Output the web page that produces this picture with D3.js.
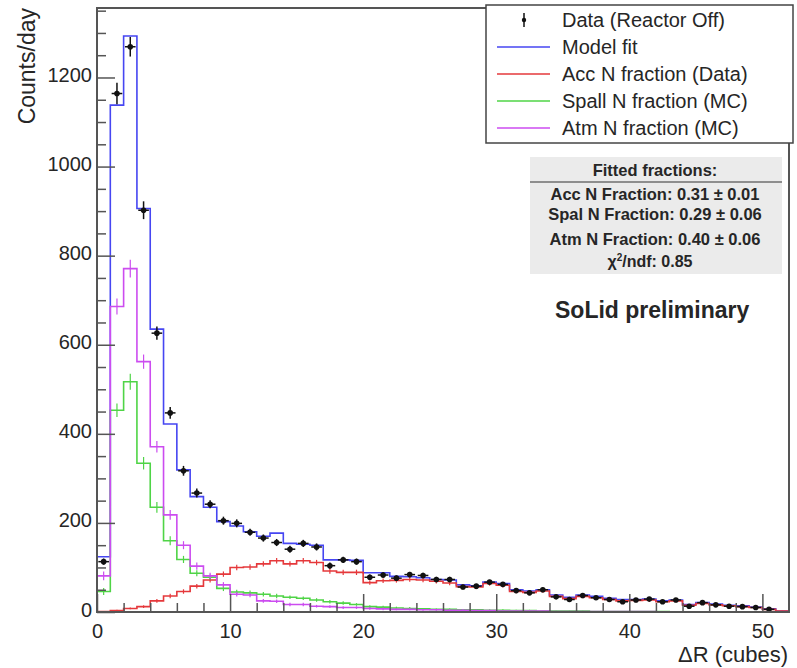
<!DOCTYPE html>
<html>
<head>
<meta charset="utf-8">
<script src="https://cdn.jsdelivr.net/npm/d3@7"></script>
<style>
  body { margin: 0; background: #fff; }
  text { font-family: "Liberation Sans", Arial, Helvetica, sans-serif; fill: #262626; }
</style>
</head>
<body>
<div id="chart"></div>
<script>
// lower edge of each 1-cube bin in ΔR
var binLow = d3.range(0, 52);

var dataCounts = [113, 1164, 1269, 902, 626, 447, 317, 267, 242, 205, 199, 179, 166, 156, 141, 154, 146, 104, 117, 113,
  78, 83, 76, 84, 82, 73, 73, 56, 58, 67, 62, 48, 43, 50, 34, 28, 37, 32, 28, 23, 27, 29, 23, 27, 13, 21, 16, 13, 12, 10, 6, 0];
var dataErr = [7, 24, 22, 20, 15, 13, 11, 10, 9, 9, 9, 8, 8, 8, 8, 8, 8, 7, 7, 7,
  6, 6, 6, 6, 6, 6, 6, 5, 5, 5, 5, 5, 5, 5, 4, 4, 4, 4, 4, 4, 4, 4, 4, 4, 3, 3, 3, 3, 3, 3, 3, 0];

var modelFit = [124, 1138, 1293, 906, 635, 422, 319, 259, 235, 203, 193, 180, 170, 177, 154, 152, 150, 117, 117, 116,
  88, 88, 80, 79, 77, 73, 72, 61, 59, 67, 64, 50, 47, 50, 38, 33, 38, 35, 31, 28, 28, 29, 25, 27, 17, 21, 18, 15, 14, 11, 7, 2];

var accN = [1, 3, 8, 12, 25, 36, 46, 58, 72, 85, 100, 101, 108, 115, 108, 115, 111, 92, 89, 89,
  66, 70, 71, 73, 72, 69, 65, 57, 56, 64, 60, 46, 44, 47, 35, 30, 35, 32, 28, 25, 26, 27, 23, 25, 15, 19, 16, 14, 12, 10, 6, 2];
var accErr = [1, 2, 2, 3, 4, 5, 5, 5, 6, 6, 6, 6, 6, 6, 6, 6, 6, 6, 6, 6,
  5, 5, 5, 5, 5, 5, 5, 5, 5, 5, 5, 4, 4, 4, 4, 4, 4, 4, 4, 4, 4, 4, 3, 3, 3, 3, 3, 3, 3, 3, 2, 1];

var spallN = [46, 453, 517, 334, 235, 160, 118, 87, 78, 53, 45, 43, 40, 36, 33, 31, 27, 23, 20, 17,
  12, 11, 9, 8, 7, 6, 6, 5, 5, 4, 4, 3, 3, 2, 2, 2, 2, 1, 1, 1, 1, 1, 1, 0, 0, 0, 0, 0, 0, 0, 0, 0];
var spallErr = [8, 15, 18, 14, 12, 10, 8, 7, 6, 6, 5, 5, 5, 5, 4, 4, 4, 4, 4, 3,
  3, 3, 3, 3, 2, 2, 2, 2, 2, 2, 2, 2, 2, 1, 1, 1, 1, 1, 1, 1, 1, 1, 1, 0, 0, 0, 0, 0, 0, 0, 0, 0];

var atmN = [81, 686, 771, 562, 371, 218, 150, 103, 81, 61, 40, 38, 25, 24, 17, 17, 13, 12, 10, 10,
  8, 7, 6, 6, 5, 5, 4, 4, 3, 3, 2, 2, 2, 2, 1, 1, 1, 1, 1, 1, 1, 1, 0, 0, 0, 0, 0, 0, 0, 0, 0, 0];
var atmErr = [10, 18, 20, 16, 13, 11, 9, 8, 7, 6, 5, 5, 4, 4, 4, 4, 3, 3, 3, 3,
  3, 3, 2, 2, 2, 2, 2, 2, 2, 2, 1, 1, 1, 1, 1, 1, 1, 1, 1, 1, 1, 1, 0, 0, 0, 0, 0, 0, 0, 0, 0, 0];

var yMajor = [0, 200, 400, 600, 800, 1000, 1200];
var xMajor = [0, 10, 20, 30, 40, 50];

var legendLabels = ["Data (Reactor Off)", "Model fit", "Acc N fraction (Data)", "Spall N fraction (MC)", "Atm N fraction (MC)"];
var fitLines = ["Acc N Fraction: 0.31 \u00b1 0.01", "Spal N Fraction: 0.29 \u00b1 0.06", "Atm N Fraction: 0.40 \u00b1 0.06"];

var col = { model: "#4646f2", acc: "#e5383b", spall: "#4fd446", atm: "#cc4cf0", frame: "#555" };

var W = 797, H = 668;
var frameL = 97, frameR = 789, frameT = 8, frameB = 612;

var svg = d3.select("#chart").append("svg")
  .attr("width", W).attr("height", H)
  .attr("viewBox", [0, 0, W, H]);

var x = d3.scaleLinear().domain([0, 52]).range([frameL, frameR]);
var y = d3.scaleLinear().domain([0, 1356]).range([frameB, frameT]);

function stepPoints(vals) {
  var pts = [];
  vals.forEach(function(v, i) {
    pts.push([binLow[i], v]);
    pts.push([binLow[i] + 1, v]);
  });
  return pts;
}
var line = d3.line().x(function(d) { return x(d[0]); }).y(function(d) { return y(d[1]); });

// histograms: model first, then the three templates on top
var hists = [
  { vals: modelFit, err: null, color: col.model },
  { vals: accN, err: accErr, color: col.acc },
  { vals: spallN, err: spallErr, color: col.spall },
  { vals: atmN, err: atmErr, color: col.atm }
];

var plot = svg.append("g");
hists.forEach(function(h) {
  plot.append("path")
    .attr("d", line(stepPoints(h.vals)))
    .attr("fill", "none")
    .attr("stroke", h.color)
    .attr("stroke-width", 1.6);
  if (h.err) {
    plot.append("g").selectAll("line")
      .data(h.vals)
      .enter().append("line")
      .attr("x1", function(d, i) { return x(binLow[i] + 0.5); })
      .attr("x2", function(d, i) { return x(binLow[i] + 0.5); })
      .attr("y1", function(d, i) { return y(d - h.err[i]); })
      .attr("y2", function(d, i) { return y(d + h.err[i]); })
      .attr("stroke", h.color)
      .attr("stroke-width", 1.2);
  }
});

// data points with error bars
var pts = binLow.map(function(b, i) { return { b: b, v: dataCounts[i], e: dataErr[i] }; })
  .filter(function(d) { return d.v > 0; });
var dg = plot.append("g").selectAll("g").data(pts).enter().append("g");
dg.append("line")
  .attr("x1", function(d) { return x(d.b + 0.5); })
  .attr("x2", function(d) { return x(d.b + 0.5); })
  .attr("y1", function(d) { return y(d.v - d.e); })
  .attr("y2", function(d) { return y(d.v + d.e); })
  .attr("stroke", "#111").attr("stroke-width", 1.5);
dg.append("line")
  .attr("x1", function(d) { return x(d.b + 0.1); })
  .attr("x2", function(d) { return x(d.b + 0.9); })
  .attr("y1", function(d) { return y(d.v); })
  .attr("y2", function(d) { return y(d.v); })
  .attr("stroke", "#111").attr("stroke-width", 1.5);
dg.append("circle")
  .attr("cx", function(d) { return x(d.b + 0.5); })
  .attr("cy", function(d) { return y(d.v); })
  .attr("r", 2.8)
  .attr("fill", "#111");

// frame
svg.append("rect")
  .attr("x", frameL).attr("y", frameT)
  .attr("width", frameR - frameL).attr("height", frameB - frameT)
  .attr("fill", "none").attr("stroke", col.frame).attr("stroke-width", 2);

// axes, ticks pointing inward
var yAxis = svg.append("g").attr("transform", "translate(" + frameL + ",0)")
  .call(d3.axisLeft(y).tickValues(yMajor).tickSize(-18).tickPadding(5).tickFormat(d3.format("d")));
var yMinor = svg.append("g").attr("transform", "translate(" + frameL + ",0)")
  .call(d3.axisLeft(y).tickValues(d3.range(0, 1351, 50).filter(function(v) { return v % 200; }))
    .tickSize(-9).tickFormat(""));
var xAxis = svg.append("g").attr("transform", "translate(0," + frameB + ")")
  .call(d3.axisBottom(x).tickValues(xMajor).tickSize(-18).tickPadding(12).tickFormat(d3.format("d")));
var xMinor = svg.append("g").attr("transform", "translate(0," + frameB + ")")
  .call(d3.axisBottom(x).tickValues(d3.range(2, 52, 2).filter(function(v) { return v % 10; }))
    .tickSize(-9).tickFormat(""));

[yAxis, yMinor, xAxis, xMinor].forEach(function(g) {
  g.select(".domain").remove();
  g.selectAll(".tick line").attr("stroke", col.frame).attr("stroke-width", 1.5);
  g.selectAll(".tick text").attr("font-size", 20).attr("fill", "#262626")
    .style("font-family", "\"Liberation Sans\", Arial, sans-serif");
});
yAxis.selectAll(".tick text").attr("dy", "0.2em");

svg.append("text")
  .attr("transform", "translate(35,8) rotate(-90)")
  .attr("text-anchor", "end")
  .attr("font-size", 23)
  .text("Counts/day");

svg.append("text")
  .attr("x", 788).attr("y", 662)
  .attr("text-anchor", "end")
  .attr("font-size", 22)
  .text("\u0394R (cubes)");

// legend
var lg = svg.append("g");
lg.append("rect")
  .attr("x", 486).attr("y", 5).attr("width", 307).attr("height", 138)
  .attr("fill", "#fff").attr("stroke", "#444").attr("stroke-width", 1.5);
var legendColors = [null, col.model, col.acc, col.spall, col.atm];
var rowY = d3.scalePoint().domain(legendLabels).range([20, 128]);
legendLabels.forEach(function(lab, i) {
  var cy = rowY(lab);
  if (legendColors[i]) {
    lg.append("line").attr("x1", 497).attr("x2", 550).attr("y1", cy).attr("y2", cy)
      .attr("stroke", legendColors[i]).attr("stroke-width", 1.6);
  } else {
    lg.append("line").attr("x1", 524).attr("x2", 524).attr("y1", cy - 7).attr("y2", cy + 7)
      .attr("stroke", "#111").attr("stroke-width", 1.5);
    lg.append("circle").attr("cx", 524).attr("cy", cy).attr("r", 2.2).attr("fill", "#111");
  }
  lg.append("text").attr("x", 562).attr("y", cy).attr("dy", "0.36em")
    .attr("font-size", 20).text(lab);
});

// fit result box
var st = svg.append("g").attr("font-weight", "bold");
st.append("rect").attr("x", 530).attr("y", 157).attr("width", 252).attr("height", 117)
  .attr("fill", "#ebebeb");
st.append("line").attr("x1", 530).attr("x2", 782).attr("y1", 182).attr("y2", 182)
  .attr("stroke", "#333").attr("stroke-width", 1.2);
st.append("text").attr("x", 655).attr("y", 170).attr("dy", "0.35em")
  .attr("text-anchor", "middle").attr("font-size", 16.5).text("Fitted fractions:");
var fitY = [194, 214, 239];
fitLines.forEach(function(t, i) {
  st.append("text").attr("x", 655).attr("y", fitY[i]).attr("dy", "0.35em")
    .attr("text-anchor", "middle").attr("font-size", 16.5).text(t);
});
var chi = st.append("text").attr("x", 650).attr("y", 261).attr("dy", "0.35em")
  .attr("text-anchor", "middle").attr("font-size", 16);
chi.append("tspan").text("\u03c7");
chi.append("tspan").attr("font-size", 10).attr("dy", "-0.6em").text("2");
chi.append("tspan").attr("dy", "0.4em").text("/ndf: 0.85");

svg.append("text")
  .attr("x", 555).attr("y", 310).attr("dy", "0.35em")
  .attr("font-size", 23).attr("font-weight", "bold")
  .text("SoLid preliminary");
</script>
</body>
</html>
